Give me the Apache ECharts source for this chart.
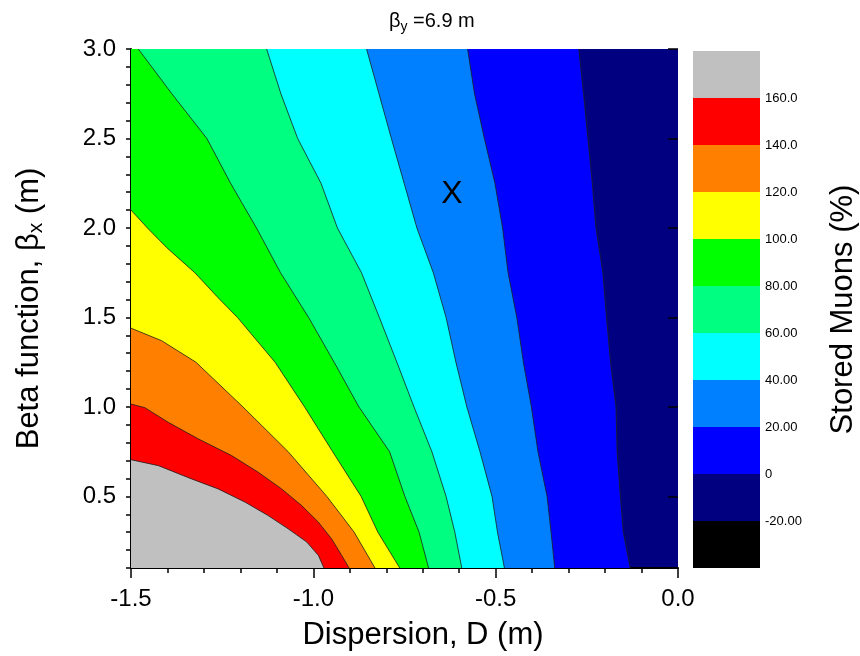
<!DOCTYPE html>
<html><head><meta charset="utf-8">
<script src="https://cdn.jsdelivr.net/npm/echarts@6/dist/echarts.min.js"></script>
<style>html,body{margin:0;padding:0;background:#fff}#c{width:860px;height:656px}</style>
</head><body><div id="c"></div>
<script>
// ---------------- data ----------------
const xMin = -1.5, xMax = 0.0;          // Dispersion D (m)
const yMin = 0.1, yMax = 3.0;           // beta_x (m)
const yLabelValues = [0.5, 1.0, 1.5, 2.0, 2.5, 3.0];
const yMinorValues = [0.1,0.2,0.3,0.4,0.5,0.6,0.7,0.8,0.9,1.0,1.1,1.2,1.3,1.4,1.5,1.6,1.7,1.8,1.9,2.0,2.1,2.2,2.3,2.4,2.5,2.6,2.7,2.8,2.9,3.0];

// contour levels (Stored Muons %) and colour-bar tick labels
const levels = [-20, 0, 20, 40, 60, 80, 100, 120, 140, 160];
const barTickLabels = ['-20.00', '0', '20.00', '40.00', '60.00', '80.00', '100.0', '120.0', '140.0', '160.0'];
const barMin = -40, barMax = 180;

// boundaries spanning full height: D value at each beta of betaGrid
const betaGrid  = [3.0, 2.75, 2.5, 2.25, 2.0, 1.75, 1.5, 1.25, 1.0, 0.75, 0.5, 0.3, 0.1];
const contour0  = [-0.272, -0.259, -0.247, -0.235, -0.225, -0.206, -0.196, -0.185, -0.170, -0.167, -0.158, -0.150, -0.131];
const contour20 = [-0.577, -0.558, -0.531, -0.502, -0.481, -0.466, -0.442, -0.424, -0.402, -0.384, -0.359, -0.348, -0.338];
const contour40 = [-0.854, -0.820, -0.786, -0.751, -0.716, -0.671, -0.636, -0.609, -0.579, -0.543, -0.510, -0.495, -0.476];
const contour60 = [-1.128, -1.089, -1.043, -0.979, -0.934, -0.868, -0.819, -0.771, -0.724, -0.675, -0.636, -0.612, -0.593];
const contour80 = [-1.480, -1.388, -1.292, -1.227, -1.156, -1.090, -1.013, -0.943, -0.875, -0.791, -0.749, -0.710, -0.684];

// boundaries starting on the left edge: [D, beta]
const contour100 = [[-1.5, 2.10], [-1.455, 2.0], [-1.402, 1.89], [-1.325, 1.75], [-1.261, 1.61], [-1.208, 1.5], [-1.105, 1.25], [-1.024, 1.0], [-0.947, 0.75], [-0.869, 0.5], [-0.823, 0.3], [-0.763, 0.1]];
const contour120 = [[-1.5, 1.44], [-1.416, 1.37], [-1.322, 1.25], [-1.193, 1.0], [-1.069, 0.75], [-0.963, 0.5], [-0.888, 0.3], [-0.831, 0.1]];
const contour140 = [[-1.5, 1.016], [-1.462, 0.996], [-1.398, 0.914], [-1.315, 0.821], [-1.224, 0.728], [-1.151, 0.635], [-1.087, 0.542], [-1.032, 0.449], [-0.986, 0.356], [-0.950, 0.263], [-0.922, 0.170], [-0.902, 0.1]];
const contour160 = [[-1.5, 0.705], [-1.425, 0.672], [-1.334, 0.598], [-1.261, 0.542], [-1.187, 0.468], [-1.124, 0.393], [-1.069, 0.319], [-1.018, 0.245], [-0.986, 0.170], [-0.971, 0.1]];

// working point marker
const markerPoint = [[-0.62, 2.19]];
const markerText = 'X';

// ---------------- styles ----------------
const bandColors = ['#000000', '#000080', '#0000FF', '#0080FF', '#00FFFF', '#00FF80', '#00FF00', '#FFFF00', '#FF8000', '#FF0000', '#C0C0C0'];
const FONT = 'Liberation Sans, Arial, sans-serif';

// ---------------- build ----------------
const zipBeta = ds => ds.map((d, i) => [d, betaGrid[i]]);
const contours = [
  { level: 0, pts: zipBeta(contour0) },
  { level: 20, pts: zipBeta(contour20) },
  { level: 40, pts: zipBeta(contour40) },
  { level: 60, pts: zipBeta(contour60) },
  { level: 80, pts: zipBeta(contour80) },
  { level: 100, pts: contour100 },
  { level: 120, pts: contour120 },
  { level: 140, pts: contour140 },
  { level: 160, pts: contour160 }
];
function regionLeftOf(pts) {
  const poly = pts.slice();
  poly.push([xMin, yMin]);
  if (pts[0][0] > xMin) poly.push([xMin, pts[0][1]]);
  return poly;
}
const colorAbove = lvl => bandColors[levels.indexOf(lvl) + 1];

const barBands = [barMin].concat(levels).map((lo, i) => [lo, i < levels.length ? levels[i] : barMax, i]);

const chart = echarts.init(document.getElementById('c'), null, { renderer: 'canvas' });
chart.setOption({
  animation: false,
  backgroundColor: '#fff',
  title: {
    text: 'β{s|y} =6.9 m',
    left: 384, top: 3,
    textStyle: { fontFamily: FONT, fontSize: 20, fontWeight: 'normal', color: '#000',
      rich: { s: { fontFamily: FONT, fontSize: 14, color: '#000', padding: [12, 0, 0, 0] } } }
  },
  grid: [
    { left: 131, right: 182, top: 49, bottom: 87, show: true, backgroundColor: bandColors[1], borderWidth: 0 },
    { left: 693, width: 69, top: 51, bottom: 88, show: false }
  ],
  xAxis: [
    {
      gridIndex: 0, type: 'value', min: xMin, max: xMax, interval: 0.5,
      axisLine: { show: true, onZero: false, lineStyle: { color: '#000', width: 2 } },
      axisTick: { show: true, length: 10, lineStyle: { color: '#000', width: 1.5 } },
      minorTick: { show: true, splitNumber: 5, length: 5, lineStyle: { color: '#000', width: 1.5 } },
      splitLine: { show: false },
      axisLabel: { fontFamily: FONT, fontSize: 24, color: '#000', margin: 19, formatter: v => v.toFixed(1) },
      name: 'Dispersion, D (m)', nameLocation: 'middle', nameGap: 52,
      nameTextStyle: { fontFamily: FONT, fontSize: 31, color: '#000', padding: [0, 0, 0, 37] }
    },
    { gridIndex: 1, type: 'value', min: 0, max: 1, show: false }
  ],
  yAxis: [
    {
      gridIndex: 0, type: 'value', min: yMin, max: yMax,
      axisLine: { show: true, onZero: false, lineStyle: { color: '#000', width: 2 } },
      axisTick: { show: true, length: 5, customValues: yMinorValues, lineStyle: { color: '#000', width: 1.5 } },
      splitLine: { show: false },
      axisLabel: { fontFamily: FONT, fontSize: 24, color: '#000', margin: 15, customValues: yLabelValues, formatter: v => v.toFixed(1) },
      name: 'Beta function, β{s|x} (m)', nameLocation: 'middle', nameRotate: 90, nameGap: 84,
      nameTextStyle: { fontFamily: FONT, fontSize: 31, color: '#000',
        rich: { s: { fontFamily: FONT, fontSize: 21, color: '#000', padding: [14, 0, 0, 0] } } }
    },
    {
      gridIndex: 1, type: 'value', min: barMin, max: barMax, interval: 20, position: 'right',
      axisLine: { show: false }, axisTick: { show: false }, splitLine: { show: false },
      axisLabel: {
        fontFamily: FONT, fontSize: 13, color: '#000', margin: 5, customValues: levels,
        padding: [7, 0, 0, 0],
        formatter: v => { const i = levels.indexOf(Math.round(v)); return i >= 0 ? barTickLabels[i] : ''; }
      },
      name: 'Stored Muons (%)', nameLocation: 'middle', nameRotate: 90, nameGap: 68,
      nameTextStyle: { fontFamily: FONT, fontSize: 31, color: '#000' }
    },
    {
      gridIndex: 0, type: 'value', min: yMin, max: yMax, position: 'left',
      axisLine: { show: false }, splitLine: { show: false }, axisLabel: { show: false },
      axisTick: { show: true, length: 10, customValues: yLabelValues, lineStyle: { color: '#000', width: 1.5 } }
    }
  ],
  series: [
    {
      type: 'custom', xAxisIndex: 0, yAxisIndex: 0,
      data: contours.map(c => [c.pts[0][0], c.pts[0][1]]),
      encode: { x: 0, y: 1 },
      renderItem: (params, api) => {
        const c = contours[params.dataIndex];
        const poly = regionLeftOf(c.pts).map(p => api.coord(p));
        const line = c.pts.map(p => api.coord(p));
        return { type: 'group', children: [
          { type: 'polygon', shape: { points: poly }, style: { fill: colorAbove(c.level), stroke: null } },
          { type: 'polyline', shape: { points: line }, style: { stroke: '#1e1e1e', lineWidth: 0.8, fill: null } }
        ] };
      }
    },
    {
      type: 'scatter', xAxisIndex: 0, yAxisIndex: 0, data: markerPoint, z: 5,
      symbolSize: 2, itemStyle: { color: 'rgba(0,0,0,0)' },
      label: { show: true, position: 'inside', formatter: markerText, fontFamily: FONT, fontSize: 32, color: '#000', opacity: 1 }
    },
    {
      type: 'custom', xAxisIndex: 1, yAxisIndex: 1,
      data: barBands,
      encode: { y: [0, 1] },
      renderItem: (params, api) => {
        const lo = api.value(0), hi = api.value(1), ci = api.value(2);
        const p1 = api.coord([0, hi]), p2 = api.coord([1, lo]);
        return { type: 'rect', shape: { x: p1[0], y: p1[1], width: p2[0] - p1[0], height: p2[1] - p1[1] },
          style: { fill: bandColors[ci], stroke: null } };
      }
    }
  ]
});
</script></body></html>
